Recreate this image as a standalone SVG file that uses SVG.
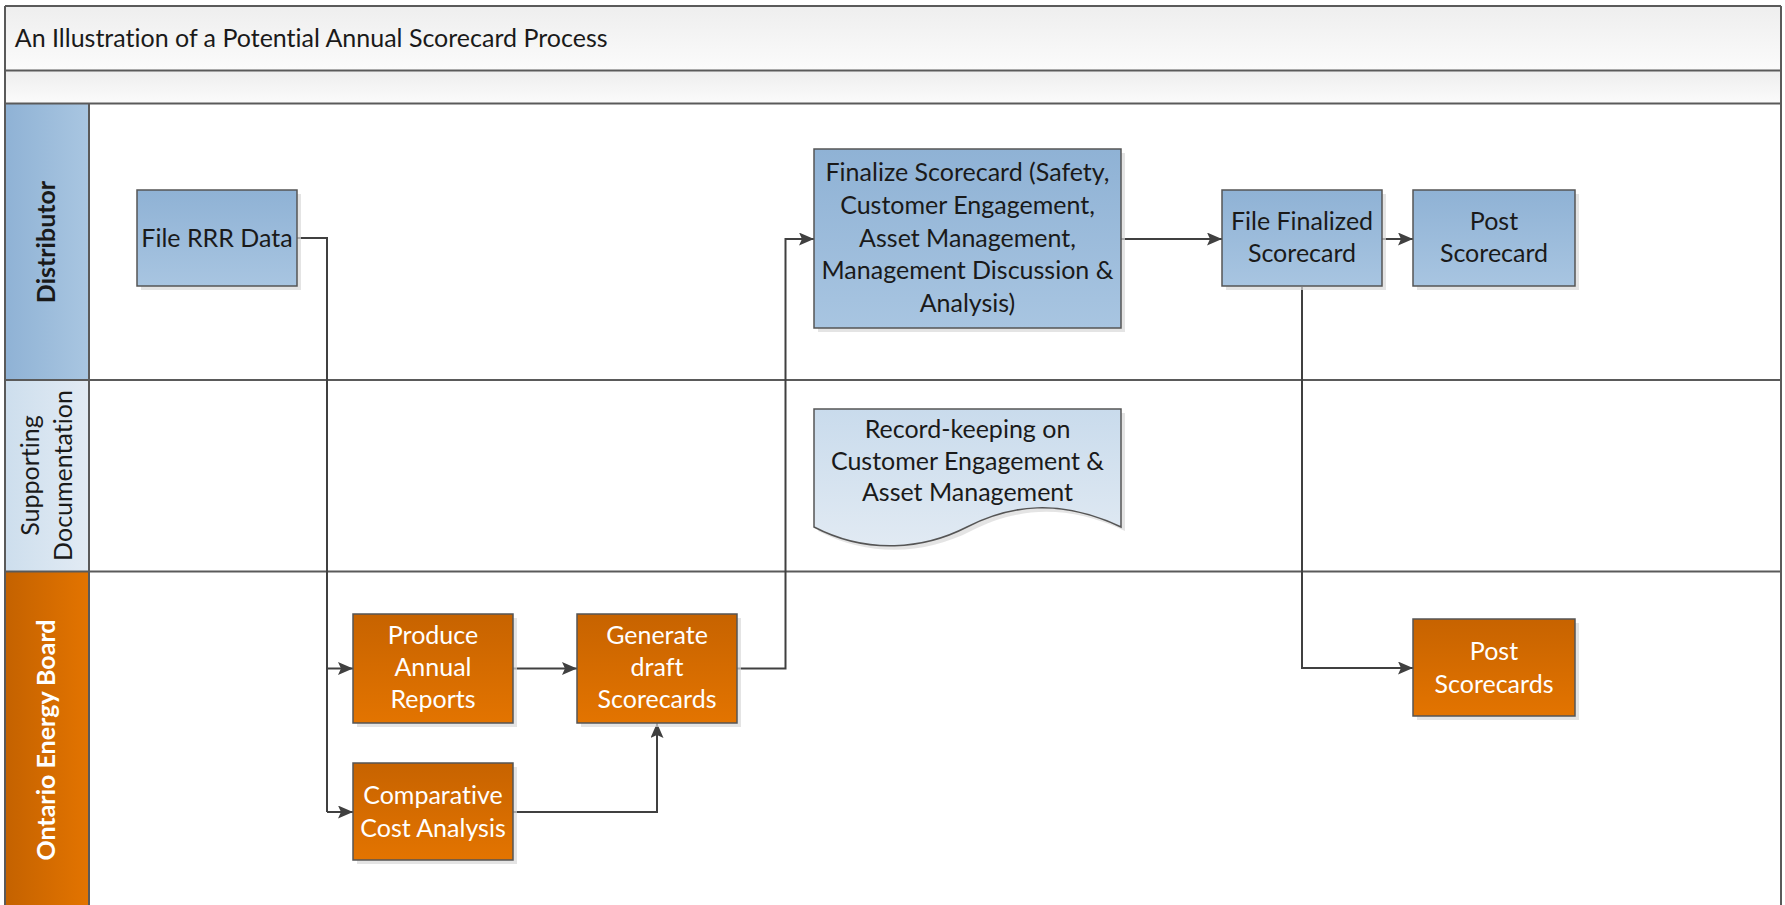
<svg xmlns="http://www.w3.org/2000/svg" width="1785" height="905" viewBox="0 0 1785 905">
<defs>
<linearGradient id="gBand" x1="0" y1="0" x2="0" y2="1"><stop offset="0" stop-color="#eeeeee"/><stop offset="1" stop-color="#fbfbfb"/></linearGradient>
<linearGradient id="gBlue" x1="0" y1="0" x2="0" y2="1"><stop offset="0" stop-color="#8fb2d5"/><stop offset="1" stop-color="#a8c5e1"/></linearGradient>
<linearGradient id="gOrange" x1="0" y1="0" x2="0" y2="1"><stop offset="0" stop-color="#c76300"/><stop offset="1" stop-color="#e37400"/></linearGradient>
<linearGradient id="gDoc" x1="0" y1="0" x2="0" y2="1"><stop offset="0" stop-color="#c9dbec"/><stop offset="1" stop-color="#e1eaf3"/></linearGradient>
<linearGradient id="lBlue" x1="0" y1="0" x2="1" y2="0"><stop offset="0" stop-color="#8fb2d5"/><stop offset="1" stop-color="#a9c6e1"/></linearGradient>
<linearGradient id="lLight" x1="0" y1="0" x2="1" y2="0"><stop offset="0" stop-color="#cddeed"/><stop offset="1" stop-color="#e2ebf4"/></linearGradient>
<linearGradient id="lOrange" x1="0" y1="0" x2="1" y2="0"><stop offset="0" stop-color="#c46200"/><stop offset="1" stop-color="#e37400"/></linearGradient>
<marker id="arr" viewBox="0 0 15 13" refX="15" refY="6.5" markerWidth="15" markerHeight="13" markerUnits="userSpaceOnUse" orient="auto">
<path d="M0,0 L15,6.5 L0,13 L3,6.5 z" fill="#404040"/>
</marker>
</defs>
<style>
.frame{fill:none;stroke:#5a5a5a;stroke-width:2}
.node{stroke:#555555;stroke-width:1.5}
.shadow{fill:#d9d9d9;opacity:0.7}
text{font-variant-ligatures:none}
.t{font-family:Lato,"Liberation Sans",sans-serif;font-size:25px;text-anchor:middle}
.dk{fill:#1a1a1a}
.wt{fill:#ffffff}
.conn{fill:none;stroke:#404040;stroke-width:2;marker-end:url(#arr)}
.line{fill:none;stroke:#404040;stroke-width:2}
</style>
<rect x="0" y="0" width="1785" height="905" fill="#ffffff"/>

<g id="pool">
<rect x="5" y="6" width="1776" height="64.6" fill="url(#gBand)"/>
<rect x="5" y="70.6" width="1776" height="33" fill="url(#gBand)"/>
<text x="14.8" y="47" font-family="Lato, 'Liberation Sans', sans-serif" font-size="25" fill="#1a1a1a">An Illustration of a Potential Annual Scorecard Process</text>
</g>

<g id="lane-distributor">
<rect x="5" y="104" width="84" height="276" fill="url(#lBlue)"/>
<text transform="translate(55,242) rotate(-90)" class="t dk" font-weight="bold">Distributor</text>
</g>
<g id="lane-supporting">
<rect x="5" y="380" width="84" height="191.5" fill="url(#lLight)"/>
<text transform="translate(39,475.5) rotate(-90)" class="t dk">Supporting</text>
<text transform="translate(72,475.5) rotate(-90)" class="t dk">Documentation</text>
</g>
<g id="lane-oeb">
<rect x="5" y="571.5" width="84" height="340" fill="url(#lOrange)"/>
<text transform="translate(55,740) rotate(-90)" class="t wt" font-weight="bold">Ontario Energy Board</text>
</g>

<g id="frame-lines">
<path class="frame" d="M5,6 H1781 M5,70.6 H1781 M5,103.6 H1781 M5,380 H1781 M5,571.5 H1781 M5,6 V905 M1781,6 V905 M89,104 V905"/>
</g>

<g id="connectors">
<path class="line" d="M297,238 H327 V812"/>
<path class="conn" d="M327,668.5 H353"/>
<path class="conn" d="M327,812 H353"/>
<path class="conn" d="M513,668.5 H577"/>
<path class="conn" d="M737,668.5 H785.5 V239 H814"/>
<path class="conn" d="M513,812 H657 V723"/>
<path class="conn" d="M1121,239 H1222"/>
<path class="conn" d="M1382,239 H1413"/>
<path class="conn" d="M1302,287 V668 H1413"/>
</g>

<g id="n-file-rrr">
<rect class="shadow" x="141" y="194" width="160" height="96"/>
<rect class="node" x="137" y="190" width="160" height="96" fill="url(#gBlue)"/>
<text class="t dk" x="217" y="246.5">File RRR Data</text>
</g>

<g id="n-finalize">
<rect class="shadow" x="818" y="153" width="307" height="179"/>
<rect class="node" x="814" y="149" width="307" height="179" fill="url(#gBlue)"/>
<text class="t dk" x="967.5" y="181">Finalize Scorecard (Safety,</text>
<text class="t dk" x="967.5" y="213.75">Customer Engagement,</text>
<text class="t dk" x="967.5" y="246.5">Asset Management,</text>
<text class="t dk" x="967.5" y="279.25">Management Discussion &amp;</text>
<text class="t dk" x="967.5" y="312">Analysis)</text>
</g>

<g id="n-file-finalized">
<rect class="shadow" x="1226" y="194" width="160" height="96"/>
<rect class="node" x="1222" y="190" width="160" height="96" fill="url(#gBlue)"/>
<text class="t dk" x="1302" y="230">File Finalized</text>
<text class="t dk" x="1302" y="262">Scorecard</text>
</g>

<g id="n-post-scorecard">
<rect class="shadow" x="1417" y="194" width="162" height="96"/>
<rect class="node" x="1413" y="190" width="162" height="96" fill="url(#gBlue)"/>
<text class="t dk" x="1494" y="230">Post</text>
<text class="t dk" x="1494" y="262">Scorecard</text>
</g>

<g id="n-record-keeping">
<path class="shadow" d="M818,413 H1125 V531 C1064,502 1014,509 971,531 C928,553 872,559 818,531 Z"/>
<path class="node" d="M814,409 H1121 V527 C1060,498 1010,505 967,527 C924,549 868,555 814,527 Z" fill="url(#gDoc)"/>
<text class="t dk" x="967.5" y="438">Record-keeping on</text>
<text class="t dk" x="967.5" y="469.5">Customer Engagement &amp;</text>
<text class="t dk" x="967.5" y="501">Asset Management</text>
</g>

<g id="n-produce">
<rect class="shadow" x="357" y="618" width="160" height="109"/>
<rect class="node" x="353" y="614" width="160" height="109" fill="url(#gOrange)"/>
<text class="t wt" x="433" y="644">Produce</text>
<text class="t wt" x="433" y="676">Annual</text>
<text class="t wt" x="433" y="708">Reports</text>
</g>

<g id="n-generate">
<rect class="shadow" x="581" y="618" width="160" height="109"/>
<rect class="node" x="577" y="614" width="160" height="109" fill="url(#gOrange)"/>
<text class="t wt" x="657" y="644">Generate</text>
<text class="t wt" x="657" y="676">draft</text>
<text class="t wt" x="657" y="708">Scorecards</text>
</g>

<g id="n-comparative">
<rect class="shadow" x="357" y="767" width="160" height="97"/>
<rect class="node" x="353" y="763" width="160" height="97" fill="url(#gOrange)"/>
<text class="t wt" x="433" y="804">Comparative</text>
<text class="t wt" x="433" y="836.5">Cost Analysis</text>
</g>

<g id="n-post-scorecards">
<rect class="shadow" x="1417" y="623" width="162" height="97"/>
<rect class="node" x="1413" y="619" width="162" height="97" fill="url(#gOrange)"/>
<text class="t wt" x="1494" y="660">Post</text>
<text class="t wt" x="1494" y="692.5">Scorecards</text>
</g>
</svg>
